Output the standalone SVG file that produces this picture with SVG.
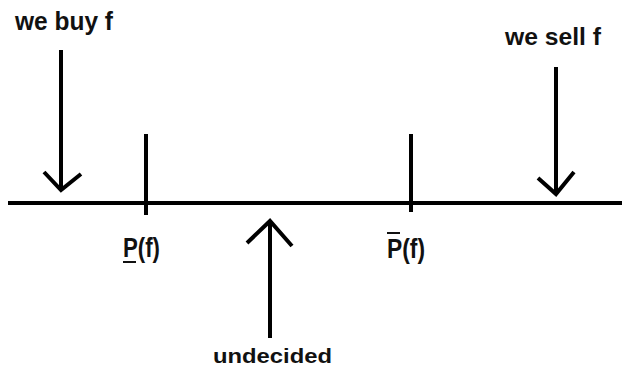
<svg xmlns="http://www.w3.org/2000/svg" width="622" height="368" viewBox="0 0 622 368">
<style>
.ln{stroke:#000;stroke-width:4;fill:none;stroke-linecap:butt;stroke-linejoin:miter}
.t{font-family:"Liberation Sans",Arial,sans-serif;font-weight:bold;fill:#111}
</style>
<rect width="622" height="368" fill="#fff"/>
<g id="axis"><line class="ln" x1="8" y1="203" x2="622" y2="203"/></g>
<g id="connectors">
<g id="buy-arrow"><line class="ln" x1="61" y1="50" x2="61" y2="190"/><polyline class="ln" points="44,172 61,190 81,174"/></g>
<g id="undecided-arrow"><line class="ln" x1="270" y1="222" x2="270" y2="338"/><polyline class="ln" points="247,243 270,221 292,246"/></g>
<g id="sell-arrow"><line class="ln" x1="556" y1="67" x2="556" y2="193"/><polyline class="ln" points="538,178 556,194 574,172"/></g>
</g>
<g id="tick-lower"><line class="ln" x1="146" y1="134" x2="146" y2="215"/></g>
<g id="tick-upper"><line class="ln" x1="411" y1="134" x2="411" y2="212"/></g>
<g id="label-buy"><text class="t" x="15" y="30" font-size="25" textLength="98" lengthAdjust="spacingAndGlyphs">we buy f</text></g>
<g id="label-sell"><text class="t" x="505" y="45" font-size="24" textLength="96" lengthAdjust="spacingAndGlyphs">we sell f</text></g>
<g id="label-lower"><text class="t" x="123" y="257" font-size="27" textLength="37" lengthAdjust="spacingAndGlyphs">P(f)</text><line x1="123" y1="262" x2="136" y2="262" stroke="#111" stroke-width="2"/></g>
<g id="label-upper"><text class="t" x="387" y="258" font-size="27" textLength="38" lengthAdjust="spacingAndGlyphs">P(f)</text><line x1="387" y1="233" x2="400" y2="233" stroke="#111" stroke-width="2"/></g>
<g id="label-undecided"><text class="t" x="213" y="363" font-size="21" textLength="119" lengthAdjust="spacingAndGlyphs">undecided</text></g>
</svg>
